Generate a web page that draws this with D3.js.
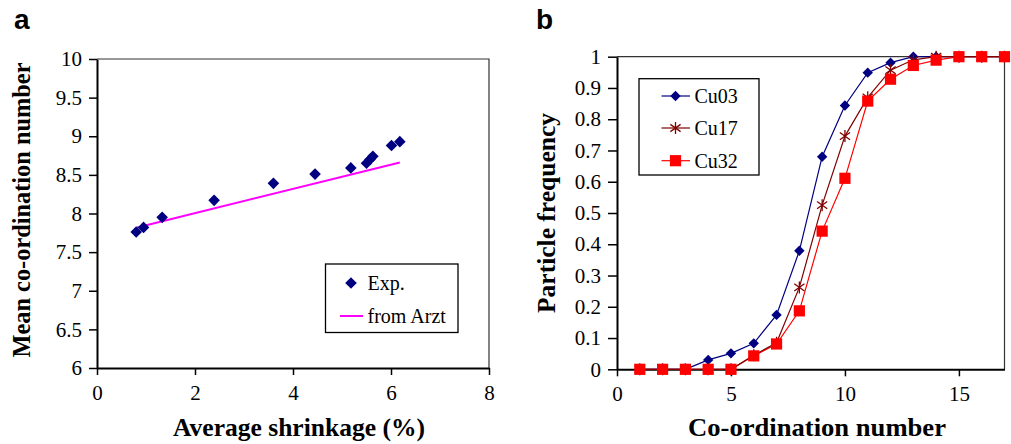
<!DOCTYPE html>
<html>
<head>
<meta charset="utf-8">
<script src="https://cdn.jsdelivr.net/npm/d3@7"></script>
<style>
  html, body { margin: 0; padding: 0; background: #fff; }
  svg { display: block; }
  text { font-family: "Liberation Serif", "Times New Roman", serif; fill: #000; }
  text.panel { font-family: "Liberation Sans", Arial, sans-serif; font-weight: bold; }
</style>
</head>
<body>
<svg id="chart" width="1011" height="444"></svg>
<script>
// ---------- Panel a data ----------
const shrinkage = [0.80, 0.95, 1.33, 2.39, 3.60, 4.45, 5.18, 5.50, 5.57, 5.63, 6.01, 6.18];
const meanCN    = [7.76, 7.82, 7.95, 8.17, 8.39, 8.51, 8.59, 8.65, 8.70, 8.74, 8.88, 8.93];
const arztX = [0.82, 6.18];
const arztY = [7.82, 8.66];
const aXTicks = [0, 2, 4, 6, 8];
const aYTicks = [6, 6.5, 7, 7.5, 8, 8.5, 9, 9.5, 10];

// ---------- Panel b data ----------
const coordNumber = [1, 2, 3, 4, 5, 6, 7, 8, 9, 10, 11, 12, 13, 14, 15, 16, 17];
const cu03 = [0, 0, 0, 0.030, 0.051, 0.083, 0.174, 0.379, 0.680, 0.844, 0.949, 0.981, 1.0, 1.0, 1.0, 1.0, 1.0];
const cu17 = [0, 0, 0, 0, 0, 0.045, 0.085, 0.262, 0.525, 0.746, 0.870, 0.957, 0.990, 1.0, 1.0, 1.0, 1.0];
const cu32 = [0, 0, 0, 0, 0, 0.043, 0.081, 0.187, 0.442, 0.611, 0.858, 0.928, 0.972, 0.989, 1.0, 1.0, 1.0];
const seriesNames = ["Cu03", "Cu17", "Cu32"];
const bXTicks = [0, 5, 10, 15];
const bYTicks = [0, 0.1, 0.2, 0.3, 0.4, 0.5, 0.6, 0.7, 0.8, 0.9, 1];

const svg = d3.select("#chart");
const TICK_FS = 21;
const TITLE_FS = 25;

function diamondPath(r) { return `M0,${-r}L${r},0L0,${r}L${-r},0Z`; }
function squarePath(h) { return `M${-h},${-h}H${h}V${h}H${-h}Z`; }
function starPath(r) {
  const a = r * 0.85, b = r * 0.6;
  return `M0,${-r}V${r}M${-a},${-b}L${a},${b}M${-a},${b}L${a},${-b}`;
}

function styleAxis(g) {
  g.select(".domain").attr("stroke", "#000").attr("stroke-width", 2);
  g.selectAll(".tick line").attr("stroke", "#000").attr("stroke-width", 1.5);
  g.selectAll(".tick text").attr("font-size", TICK_FS).attr("fill", "#000");
}

function title(x, y, rot, txt, len) {
  const t = svg.append("text")
    .attr("transform", `translate(${x},${y})` + (rot ? " rotate(-90)" : ""))
    .attr("text-anchor", "middle").attr("font-size", TITLE_FS).attr("font-weight", "bold")
    .attr("textLength", len).attr("lengthAdjust", "spacingAndGlyphs").text(txt);
  return t;
}

// =============== Panel a ===============
{
  const L = 97, R = 489, T = 59, B = 368;
  const x = d3.scaleLinear().domain([0, 8]).range([L, R]);
  const y = d3.scaleLinear().domain([6, 10]).range([B, T]);

  svg.append("path")
    .attr("d", `M${L},${T}H${R}V${B}`)
    .attr("fill", "none").attr("stroke", "#333").attr("stroke-width", 1.2);

  const gx = svg.append("g").attr("transform", `translate(0,${B})`)
    .call(d3.axisBottom(x).tickValues(aXTicks).tickFormat(d3.format("d")).tickSize(7).tickPadding(10).tickSizeOuter(0));
  styleAxis(gx);
  const gy = svg.append("g").attr("transform", `translate(${L},0)`)
    .call(d3.axisLeft(y).tickValues(aYTicks).tickFormat(d => String(d)).tickSize(8).tickPadding(7).tickSizeOuter(0));
  styleAxis(gy);

  const line = d3.line().x(d => x(d[0])).y(d => y(d[1]));
  svg.append("path").datum(d3.zip(arztX, arztY))
    .attr("d", line).attr("fill", "none").attr("stroke", "#ff00ff").attr("stroke-width", 2);

  svg.append("g").selectAll("path").data(d3.zip(shrinkage, meanCN)).join("path")
    .attr("transform", d => `translate(${x(d[0])},${y(d[1])})`)
    .attr("d", diamondPath(5.8)).attr("fill", "#000080");

  const lg = svg.append("g");
  lg.append("rect").attr("x", 325.5).attr("y", 264).attr("width", 132.5).attr("height", 68.5)
    .attr("fill", "#fff").attr("stroke", "#000").attr("stroke-width", 1.3);
  lg.append("path").attr("transform", "translate(351,283)").attr("d", diamondPath(5.8)).attr("fill", "#000080");
  lg.append("text").attr("x", 367.5).attr("y", 290).attr("font-size", 20).text("Exp.");
  lg.append("line").attr("x1", 340).attr("x2", 363).attr("y1", 316).attr("y2", 316)
    .attr("stroke", "#ff00ff").attr("stroke-width", 2);
  lg.append("text").attr("x", 367.5).attr("y", 323).attr("font-size", 20).text("from Arzt");

  title(299, 436, false, "Average shrinkage (%)", 252);
  title(30, 210, true, "Mean co-ordination number", 295);
  svg.append("text").attr("class", "panel").attr("x", 14).attr("y", 28.5).attr("font-size", 28).text("a");
}

// =============== Panel b ===============
{
  const L = 617, R = 1004.5, T = 56.7, B = 369.3;
  const x = d3.scaleLinear().domain([0, 17]).range([L, R]);
  const y = d3.scaleLinear().domain([0, 1]).range([B, T]);

  svg.append("path")
    .attr("d", `M${L},${T}H${R}V${B}`)
    .attr("fill", "none").attr("stroke", "#333").attr("stroke-width", 1.2);

  const gx = svg.append("g").attr("transform", `translate(0,${B})`)
    .call(d3.axisBottom(x).tickValues(bXTicks).tickFormat(d3.format("d")).tickSize(7).tickPadding(10).tickSizeOuter(0));
  styleAxis(gx);
  const gy = svg.append("g").attr("transform", `translate(${L},0)`)
    .call(d3.axisLeft(y).tickValues(bYTicks).tickFormat(d => String(d)).tickSize(9).tickPadding(7).tickSizeOuter(0));
  styleAxis(gy);

  const series = [
    { name: seriesNames[0], values: cu03, color: "#000080", marker: diamondPath(5.2), fill: true },
    { name: seriesNames[1], values: cu17, color: "#800000", marker: starPath(6), fill: false },
    { name: seriesNames[2], values: cu32, color: "#ff0000", marker: squarePath(5.6), fill: true }
  ];
  const line = d3.line().x((d, i) => x(coordNumber[i])).y(d => y(d));

  [series[0], series[2], series[1]].forEach(s => {
    svg.append("path").datum(s.values).attr("d", line)
      .attr("fill", "none").attr("stroke", s.color).attr("stroke-width", 1.2);
  });
  series.forEach(s => {
    svg.append("g").selectAll("path").data(s.values).join("path")
      .attr("transform", (d, i) => `translate(${x(coordNumber[i])},${y(d)})`)
      .attr("d", s.marker)
      .attr("fill", s.fill ? s.color : "none")
      .attr("stroke", s.fill ? "none" : s.color).attr("stroke-width", 1.3);
  });

  const lg = svg.append("g");
  lg.append("rect").attr("x", 639).attr("y", 78.7).attr("width", 120).attr("height", 96.3)
    .attr("fill", "#fff").attr("stroke", "#000").attr("stroke-width", 1.3);
  const ly = [96, 128, 160.7];
  series.forEach((s, i) => {
    lg.append("line").attr("x1", 661.5).attr("x2", 690).attr("y1", ly[i]).attr("y2", ly[i])
      .attr("stroke", s.color).attr("stroke-width", 1.2);
    lg.append("path").attr("transform", `translate(675.5,${ly[i]})`).attr("d", s.marker)
      .attr("fill", s.fill ? s.color : "none")
      .attr("stroke", s.fill ? "none" : s.color).attr("stroke-width", 1.3);
    lg.append("text").attr("x", 694.5).attr("y", ly[i] + 7).attr("font-size", 20).text(s.name);
  });

  title(817, 436, false, "Co-ordination number", 258);
  title(555, 213, true, "Particle frequency", 200);
  svg.append("text").attr("class", "panel").attr("x", 536).attr("y", 28.5).attr("font-size", 28).text("b");
}
</script>
</body>
</html>
